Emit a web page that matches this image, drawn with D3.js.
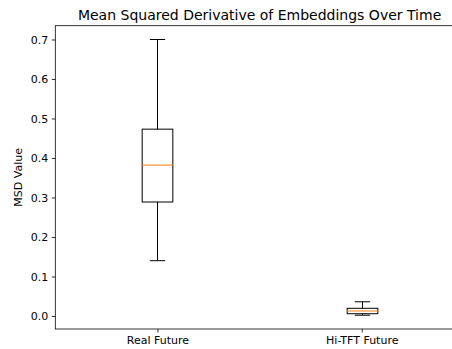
<!DOCTYPE html>
<html><head><meta charset="utf-8">
<script src="https://cdn.jsdelivr.net/npm/d3@7"></script>
<style>body{margin:0;background:#fff}svg{display:block}</style>
</head><body>
<script>
const categories = ["Real Future", "Hi-TFT Future"];
const whiskerLow = [0.140, 0.002];
const q1 = [0.2886, 0.0058];
const median = [0.382, 0.0127];
const q3 = [0.473, 0.0195];
const whiskerHigh = [0.700, 0.0360];
const yTicks = [0.0, 0.1, 0.2, 0.3, 0.4, 0.5, 0.6, 0.7];

const W = 452, H = 349;
const m = {left: 55.3, top: 25.7, right: 463.9, bottom: 329};
const svg = d3.select("body").append("svg").attr("width", W).attr("height", H)
  .style("font-family", "DejaVu Sans, sans-serif");

const dmin = d3.min(whiskerLow), dmax = d3.max(whiskerHigh), pad = (dmax - dmin) * 0.05;
const y = d3.scaleLinear().domain([dmin - pad, dmax + pad]).range([m.bottom, m.top]);
const x = d3.scaleLinear().domain([0.5, 2.5]).range([m.left, m.right]);

const boxW = x(1.075) - x(0.925), capW = x(1.0375) - x(0.9625);

const g = svg.append("g");
categories.forEach((c, i) => {
  const cx = Math.round(x(i + 1)) + 0.5;
  const gg = g.append("g").attr("stroke", "#000").attr("stroke-width", 1).attr("fill", "none");
  gg.append("line").attr("x1", cx).attr("x2", cx).attr("y1", y(whiskerLow[i])).attr("y2", y(q1[i]));
  gg.append("line").attr("x1", cx).attr("x2", cx).attr("y1", y(q3[i])).attr("y2", y(whiskerHigh[i]));
  gg.append("line").attr("x1", cx - capW/2).attr("x2", cx + capW/2).attr("y1", y(whiskerLow[i])).attr("y2", y(whiskerLow[i]));
  gg.append("line").attr("x1", cx - capW/2).attr("x2", cx + capW/2).attr("y1", y(whiskerHigh[i])).attr("y2", y(whiskerHigh[i]));
  gg.append("rect").attr("x", cx - boxW/2).attr("y", y(q3[i])).attr("width", boxW).attr("height", y(q1[i]) - y(q3[i]));
  g.append("line").attr("x1", cx - boxW/2).attr("x2", cx + boxW/2).attr("y1", y(median[i])).attr("y2", y(median[i]))
    .attr("stroke", "#ff7f0e").attr("stroke-width", 1);
});

const yAxis = svg.append("g").attr("transform", `translate(${m.left},0)`)
  .call(d3.axisLeft(y).tickValues(yTicks).tickFormat(d3.format(".1f")).tickSize(3.5).tickPadding(3.5));
const xAxis = svg.append("g").attr("transform", `translate(0,${m.bottom})`)
  .call(d3.axisBottom(x).tickValues([1, 2]).tickFormat((d) => categories[d - 1]).tickSize(3.5).tickPadding(3.5));
[yAxis, xAxis].forEach(a => {
  a.selectAll("text").attr("font-size", 11).attr("fill", "#000").style("font-family", "DejaVu Sans, sans-serif");
  a.selectAll("line").attr("stroke", "#000").attr("stroke-width", 0.8);
  a.select(".domain").remove();
});
// spines
svg.append("rect").attr("x", m.left).attr("y", m.top).attr("width", m.right - m.left).attr("height", m.bottom - m.top)
  .attr("fill", "none").attr("stroke", "#000").attr("stroke-width", 0.8);

svg.append("text").attr("x", (m.left + m.right) / 2).attr("y", m.top - 6).attr("text-anchor", "middle")
  .attr("font-size", 14).attr("fill", "#000").text("Mean Squared Derivative of Embeddings Over Time");
svg.append("text").attr("transform", `translate(22,${(m.top + m.bottom) / 2}) rotate(-90)`)
  .attr("text-anchor", "middle").attr("font-size", 11).attr("fill", "#000").text("MSD Value");
</script>
</body></html>
